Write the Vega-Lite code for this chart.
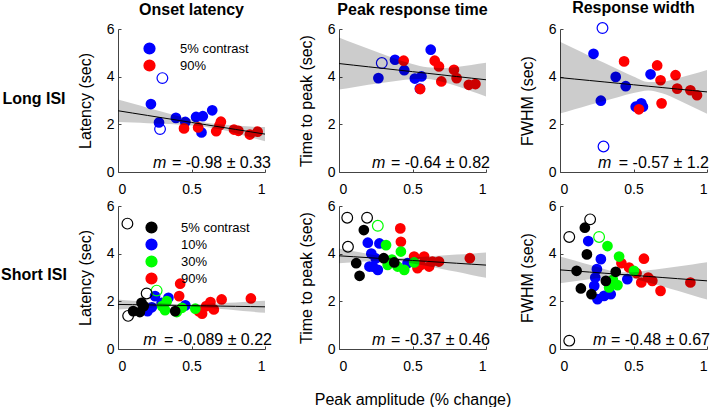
{
"$schema":"https://vega.github.io/schema/vega-lite/v6.json",
"background":"white",
"padding":{"left":0,"top":0,"right":3,"bottom":0},
"datasets":{
"d1":[
{"c":"5% contrast","a":0.224,"v":2.85,"o":false},{"c":"5% contrast","a":0.279,"v":2.08,"o":false},{"c":"5% contrast","a":0.394,"v":2.27,"o":false},{"c":"5% contrast","a":0.458,"v":2.10,"o":false},{"c":"5% contrast","a":0.531,"v":2.31,"o":false},{"c":"5% contrast","a":0.577,"v":2.34,"o":false},{"c":"5% contrast","a":0.641,"v":2.59,"o":false},{"c":"5% contrast","a":0.568,"v":1.66,"o":false},{"c":"5% contrast","a":0.302,"v":3.94,"o":true},{"c":"5% contrast","a":0.286,"v":1.80,"o":true},
{"c":"90%","a":0.449,"v":1.83,"o":false},{"c":"90%","a":0.545,"v":1.87,"o":false},{"c":"90%","a":0.668,"v":1.71,"o":false},{"c":"90%","a":0.700,"v":2.11,"o":false},{"c":"90%","a":0.690,"v":1.95,"o":false},{"c":"90%","a":0.789,"v":1.78,"o":false},{"c":"90%","a":0.819,"v":1.73,"o":false},{"c":"90%","a":0.897,"v":1.57,"o":false},{"c":"90%","a":0.950,"v":1.69,"o":false}],
"d2":[
{"c":"5% contrast","a":0.268,"v":3.94,"o":false},{"c":"5% contrast","a":0.381,"v":4.71,"o":false},{"c":"5% contrast","a":0.444,"v":4.27,"o":false},{"c":"5% contrast","a":0.516,"v":3.92,"o":false},{"c":"5% contrast","a":0.561,"v":4.01,"o":false},{"c":"5% contrast","a":0.624,"v":5.13,"o":false},{"c":"5% contrast","a":0.55,"v":3.50,"o":false},{"c":"5% contrast","a":0.291,"v":4.57,"o":true},
{"c":"90%","a":0.44,"v":4.67,"o":false},{"c":"90%","a":0.552,"v":3.48,"o":false},{"c":"90%","a":0.651,"v":4.67,"o":false},{"c":"90%","a":0.68,"v":4.43,"o":false},{"c":"90%","a":0.696,"v":3.80,"o":false},{"c":"90%","a":0.782,"v":4.29,"o":false},{"c":"90%","a":0.80,"v":3.94,"o":false},{"c":"90%","a":0.883,"v":3.66,"o":false},{"c":"90%","a":0.928,"v":3.69,"o":false}],
"d3":[
{"c":"5% contrast","a":0.228,"v":4.96,"o":false},{"c":"5% contrast","a":0.278,"v":2.99,"o":false},{"c":"5% contrast","a":0.379,"v":3.99,"o":false},{"c":"5% contrast","a":0.447,"v":3.60,"o":false},{"c":"5% contrast","a":0.515,"v":2.74,"o":false},{"c":"5% contrast","a":0.553,"v":2.88,"o":false},{"c":"5% contrast","a":0.564,"v":2.74,"o":false},{"c":"5% contrast","a":0.616,"v":4.10,"o":false},{"c":"5% contrast","a":0.289,"v":6.04,"o":true},{"c":"5% contrast","a":0.296,"v":1.07,"o":true},
{"c":"90%","a":0.436,"v":4.64,"o":false},{"c":"90%","a":0.537,"v":2.63,"o":false},{"c":"90%","a":0.661,"v":4.47,"o":false},{"c":"90%","a":0.684,"v":3.85,"o":false},{"c":"90%","a":0.691,"v":2.88,"o":false},{"c":"90%","a":0.786,"v":4.06,"o":false},{"c":"90%","a":0.797,"v":3.50,"o":false},{"c":"90%","a":0.887,"v":3.43,"o":false},{"c":"90%","a":0.932,"v":3.22,"o":false}],
"d4":[
{"c":"90%","a":0.423,"v":2.74,"o":false},{"c":"90%","a":0.416,"v":2.22,"o":false},{"c":"90%","a":0.549,"v":1.59,"o":false},{"c":"90%","a":0.572,"v":1.48,"o":false},{"c":"90%","a":0.629,"v":1.97,"o":false},{"c":"90%","a":0.652,"v":1.66,"o":false},{"c":"90%","a":0.705,"v":2.08,"o":false},{"c":"90%","a":0.904,"v":2.12,"o":false},{"c":"90%","a":0.60,"v":1.80,"o":false},
{"c":"10%","a":0.201,"v":1.59,"o":false},{"c":"10%","a":0.252,"v":2.22,"o":false},{"c":"10%","a":0.297,"v":1.94,"o":false},{"c":"10%","a":0.343,"v":2.15,"o":false},{"c":"10%","a":0.458,"v":1.83,"o":false},{"c":"10%","a":0.23,"v":1.75,"o":false},
{"c":"30%","a":0.332,"v":2.01,"o":false},{"c":"30%","a":0.32,"v":1.63,"o":false},{"c":"30%","a":0.40,"v":1.55,"o":false},{"c":"30%","a":0.435,"v":1.73,"o":false},{"c":"30%","a":0.526,"v":1.69,"o":false},{"c":"30%","a":0.30,"v":1.80,"o":false},{"c":"30%","a":0.263,"v":2.45,"o":true},
{"c":"5% contrast","a":0.103,"v":1.59,"o":false},{"c":"5% contrast","a":0.149,"v":1.55,"o":false},{"c":"5% contrast","a":0.16,"v":1.94,"o":false},{"c":"5% contrast","a":0.175,"v":1.80,"o":false},{"c":"5% contrast","a":0.389,"v":1.59,"o":false},{"c":"5% contrast","a":0.064,"v":5.26,"o":true},{"c":"5% contrast","a":0.069,"v":1.39,"o":true},{"c":"5% contrast","a":0.195,"v":2.33,"o":true}],
"d5":[
{"c":"90%","a":0.417,"v":5.06,"o":false},{"c":"90%","a":0.421,"v":4.50,"o":false},{"c":"90%","a":0.511,"v":3.88,"o":false},{"c":"90%","a":0.556,"v":3.53,"o":false},{"c":"90%","a":0.579,"v":3.88,"o":false},{"c":"90%","a":0.613,"v":3.46,"o":false},{"c":"90%","a":0.635,"v":3.67,"o":false},{"c":"90%","a":0.68,"v":3.67,"o":false},{"c":"90%","a":0.89,"v":3.81,"o":false},{"c":"90%","a":0.534,"v":3.39,"o":false},
{"c":"10%","a":0.196,"v":4.46,"o":false},{"c":"10%","a":0.275,"v":4.43,"o":false},{"c":"10%","a":0.230,"v":3.46,"o":false},{"c":"10%","a":0.264,"v":3.32,"o":false},{"c":"10%","a":0.207,"v":3.46,"o":false},{"c":"10%","a":0.466,"v":3.60,"o":false},{"c":"10%","a":0.22,"v":4.0,"o":false},{"c":"10%","a":0.25,"v":3.8,"o":false},
{"c":"30%","a":0.32,"v":4.36,"o":false},{"c":"30%","a":0.331,"v":3.53,"o":false},{"c":"30%","a":0.421,"v":4.09,"o":false},{"c":"30%","a":0.399,"v":3.46,"o":false},{"c":"30%","a":0.444,"v":3.32,"o":false},{"c":"30%","a":0.511,"v":3.63,"o":false},{"c":"30%","a":0.36,"v":3.75,"o":false},{"c":"30%","a":0.264,"v":5.17,"o":true},
{"c":"5% contrast","a":0.169,"v":4.99,"o":false},{"c":"5% contrast","a":0.117,"v":3.60,"o":false},{"c":"5% contrast","a":0.140,"v":3.07,"o":false},{"c":"5% contrast","a":0.304,"v":3.81,"o":false},{"c":"5% contrast","a":0.376,"v":3.63,"o":false},{"c":"5% contrast","a":0.056,"v":5.51,"o":true},{"c":"5% contrast","a":0.191,"v":5.51,"o":true},{"c":"5% contrast","a":0.061,"v":4.29,"o":true}],
"d6":[
{"c":"90%","a":0.418,"v":3.60,"o":false},{"c":"90%","a":0.571,"v":3.79,"o":false},{"c":"90%","a":0.47,"v":3.42,"o":false},{"c":"90%","a":0.521,"v":3.18,"o":false},{"c":"90%","a":0.553,"v":2.79,"o":false},{"c":"90%","a":0.628,"v":2.86,"o":false},{"c":"90%","a":0.684,"v":2.44,"o":false},{"c":"90%","a":0.887,"v":2.79,"o":false},{"c":"90%","a":0.60,"v":3.0,"o":false},
{"c":"10%","a":0.192,"v":4.53,"o":false},{"c":"10%","a":0.278,"v":3.77,"o":false},{"c":"10%","a":0.251,"v":3.35,"o":false},{"c":"10%","a":0.233,"v":2.65,"o":false},{"c":"10%","a":0.255,"v":2.09,"o":false},{"c":"10%","a":0.30,"v":2.23,"o":false},{"c":"10%","a":0.345,"v":2.30,"o":false},{"c":"10%","a":0.458,"v":2.93,"o":false},{"c":"10%","a":0.24,"v":3.0,"o":false},
{"c":"30%","a":0.323,"v":4.32,"o":false},{"c":"30%","a":0.402,"v":3.88,"o":false},{"c":"30%","a":0.334,"v":2.58,"o":false},{"c":"30%","a":0.391,"v":2.68,"o":false},{"c":"30%","a":0.503,"v":3.28,"o":false},{"c":"30%","a":0.36,"v":2.9,"o":false},{"c":"30%","a":0.266,"v":4.70,"o":true},
{"c":"5% contrast","a":0.169,"v":5.09,"o":false},{"c":"5% contrast","a":0.183,"v":3.97,"o":false},{"c":"5% contrast","a":0.113,"v":3.28,"o":false},{"c":"5% contrast","a":0.142,"v":2.54,"o":false},{"c":"5% contrast","a":0.214,"v":2.30,"o":false},{"c":"5% contrast","a":0.312,"v":2.86,"o":false},{"c":"5% contrast","a":0.379,"v":3.24,"o":false},{"c":"5% contrast","a":0.205,"v":5.44,"o":true},{"c":"5% contrast","a":0.063,"v":4.70,"o":true},{"c":"5% contrast","a":0.063,"v":0.35,"o":true}],
"b1":[{"a":0,"lo":2.10,"hi":3.04,"fit":2.57},{"a":0.1,"lo":2.08,"hi":2.87,"fit":2.472},{"a":0.2,"lo":2.05,"hi":2.70,"fit":2.374},{"a":0.3,"lo":2.02,"hi":2.53,"fit":2.276},{"a":0.4,"lo":1.99,"hi":2.36,"fit":2.178},{"a":0.5,"lo":1.95,"hi":2.21,"fit":2.08},{"a":0.6,"lo":1.89,"hi":2.07,"fit":1.982},{"a":0.7,"lo":1.78,"hi":1.99,"fit":1.884},{"a":0.8,"lo":1.63,"hi":1.95,"fit":1.786},{"a":0.9,"lo":1.46,"hi":1.91,"fit":1.688},{"a":1,"lo":1.29,"hi":1.89,"fit":1.59}],
"b2":[{"a":0,"lo":3.46,"hi":5.64,"fit":4.55},{"a":0.1,"lo":3.56,"hi":5.40,"fit":4.482},{"a":0.2,"lo":3.66,"hi":5.17,"fit":4.414},{"a":0.3,"lo":3.75,"hi":4.94,"fit":4.346},{"a":0.4,"lo":3.83,"hi":4.72,"fit":4.278},{"a":0.5,"lo":3.89,"hi":4.53,"fit":4.21},{"a":0.6,"lo":3.90,"hi":4.39,"fit":4.142},{"a":0.7,"lo":3.79,"hi":4.36,"fit":4.074},{"a":0.8,"lo":3.61,"hi":4.41,"fit":4.006},{"a":0.9,"lo":3.39,"hi":4.49,"fit":3.938},{"a":1,"lo":3.17,"hi":4.58,"fit":3.87}],
"b3":[{"a":0,"lo":2.45,"hi":5.47,"fit":3.96},{"a":0.1,"lo":2.63,"hi":5.17,"fit":3.90},{"a":0.2,"lo":2.81,"hi":4.87,"fit":3.84},{"a":0.3,"lo":2.98,"hi":4.58,"fit":3.78},{"a":0.4,"lo":3.15,"hi":4.29,"fit":3.72},{"a":0.5,"lo":3.31,"hi":4.01,"fit":3.66},{"a":0.6,"lo":3.42,"hi":3.78,"fit":3.60},{"a":0.7,"lo":3.29,"hi":3.79,"fit":3.54},{"a":0.8,"lo":3.03,"hi":3.93,"fit":3.48},{"a":0.9,"lo":2.74,"hi":4.10,"fit":3.42},{"a":1,"lo":2.44,"hi":4.28,"fit":3.36}],
"b4":[{"a":0,"lo":1.66,"hi":2.08,"fit":1.87},{"a":0.1,"lo":1.70,"hi":2.02,"fit":1.86},{"a":0.2,"lo":1.73,"hi":1.97,"fit":1.85},{"a":0.3,"lo":1.76,"hi":1.92,"fit":1.84},{"a":0.4,"lo":1.78,"hi":1.88,"fit":1.83},{"a":0.5,"lo":1.77,"hi":1.87,"fit":1.82},{"a":0.6,"lo":1.73,"hi":1.89,"fit":1.81},{"a":0.7,"lo":1.68,"hi":1.92,"fit":1.80},{"a":0.8,"lo":1.63,"hi":1.95,"fit":1.79},{"a":0.9,"lo":1.57,"hi":1.99,"fit":1.78},{"a":1,"lo":1.52,"hi":2.02,"fit":1.77}],
"b5":[{"a":0,"lo":3.60,"hi":4.22,"fit":3.91},{"a":0.1,"lo":3.64,"hi":4.10,"fit":3.871},{"a":0.2,"lo":3.68,"hi":3.99,"fit":3.832},{"a":0.3,"lo":3.71,"hi":3.88,"fit":3.793},{"a":0.4,"lo":3.69,"hi":3.82,"fit":3.754},{"a":0.5,"lo":3.59,"hi":3.84,"fit":3.715},{"a":0.6,"lo":3.48,"hi":3.88,"fit":3.676},{"a":0.7,"lo":3.36,"hi":3.92,"fit":3.637},{"a":0.8,"lo":3.24,"hi":3.96,"fit":3.598},{"a":0.9,"lo":3.11,"hi":4.00,"fit":3.559},{"a":1,"lo":2.99,"hi":4.05,"fit":3.52}],
"b6":[{"a":0,"lo":2.76,"hi":3.88,"fit":3.32},{"a":0.1,"lo":2.84,"hi":3.71,"fit":3.274},{"a":0.2,"lo":2.93,"hi":3.53,"fit":3.228},{"a":0.3,"lo":3.00,"hi":3.36,"fit":3.182},{"a":0.4,"lo":3.05,"hi":3.22,"fit":3.136},{"a":0.5,"lo":2.96,"hi":3.22,"fit":3.09},{"a":0.6,"lo":2.79,"hi":3.30,"fit":3.044},{"a":0.7,"lo":2.62,"hi":3.38,"fit":2.998},{"a":0.8,"lo":2.44,"hi":3.46,"fit":2.952},{"a":0.9,"lo":2.26,"hi":3.55,"fit":2.906},{"a":1,"lo":2.08,"hi":3.64,"fit":2.86}]
},
"spacing":3,
"resolve":{"scale":{"color":"independent","stroke":"independent"},"legend":{"color":"independent"}},
"vconcat":[
{"spacing":74,"bounds":"flush",
 "resolve":{"scale":{"color":"independent","stroke":"independent"},"legend":{"color":"independent"}},
 "hconcat":[
 {"width":44,"height":143,"data":{"values":[{"t":"Long ISI"}]},
  "mark":{"type":"text","fontSize":16,"fontWeight":"bold","color":"#000000","dx":12,"dy":-2},
  "encoding":{"text":{"field":"t","type":"nominal"}}},
 {"width":147,"height":143,"title":"Onset latency",
  "encoding":{"x":{"field":"a","type":"quantitative","scale":{"domain":[0,1]},"axis":{"values":[0,0.5,1],"format":"~g","title":null}}},
  "layer":[
   {"data":{"name":"d1"},"transform":[{"filter":"!datum.o"}],"mark":{"type":"circle","size":115,"opacity":1},
    "encoding":{"y":{"field":"v","type":"quantitative","scale":{"domain":[0,6]},"axis":{"values":[0,2,4,6],"title":"Latency (sec)"}},
     "color":{"field":"c","type":"nominal","scale":{"domain":["5% contrast","90%"],"range":["#0000ff","#ff0000"]},
      "legend":{"orient":"none","legendX":25,"legendY":13,"title":null,"labelFontSize":13,"symbolSize":115,"symbolType":"circle","labelOffset":24,"rowPadding":0,"padding":0}}}},
   {"data":{"name":"d1"},"transform":[{"filter":"datum.o"}],"mark":{"type":"point","shape":"circle","size":115,"filled":false,"strokeWidth":1.2,"opacity":1},
    "encoding":{"y":{"field":"v","type":"quantitative","scale":{"domain":[0,6]},"axis":{"values":[0,2,4,6],"title":"Latency (sec)"}},
     "stroke":{"field":"c","type":"nominal","scale":{"domain":["5% contrast","90%"],"range":["#0000ff","#ff0000"]},"legend":null}}},
   {"data":{"name":"b1"},"mark":{"type":"area","color":"#000000","opacity":0.2,"interpolate":"monotone"},
    "encoding":{"y":{"field":"lo","type":"quantitative","scale":{"domain":[0,6]},"axis":{"values":[0,2,4,6],"title":"Latency (sec)"}},"y2":{"field":"hi"}}},
   {"data":{"name":"b1"},"mark":{"type":"line","color":"#000000","strokeWidth":1},
    "encoding":{"y":{"field":"fit","type":"quantitative","scale":{"domain":[0,6]},"axis":{"values":[0,2,4,6],"title":"Latency (sec)"}}}},
   {"data":{"values":[{"t":"= -0.98 ± 0.33"}]},"mark":{"type":"text","align":"right","baseline":"alphabetic","fontSize":16,"color":"#000000","dx":6,"dy":-4},
    "encoding":{"x":{"value":"width"},"y":{"value":"height"},"text":{"field":"t","type":"nominal"}}},
   {"data":{"values":[{"t":"m"}]},"mark":{"type":"text","align":"right","baseline":"alphabetic","fontSize":16,"fontStyle":"italic","color":"#000000","dx":-98.6,"dy":-4},
    "encoding":{"x":{"value":"width"},"y":{"value":"height"},"text":{"field":"t","type":"nominal"}}}
  ]},
 {"width":147,"height":143,"title":"Peak response time",
  "encoding":{"x":{"field":"a","type":"quantitative","scale":{"domain":[0,1]},"axis":{"values":[0,0.5,1],"format":"~g","title":null}}},
  "layer":[
   {"data":{"name":"d2"},"transform":[{"filter":"!datum.o"}],"mark":{"type":"circle","size":115,"opacity":1},
    "encoding":{"y":{"field":"v","type":"quantitative","scale":{"domain":[0,6]},"axis":{"values":[0,2,4,6],"title":"Time to peak (sec)"}},
     "color":{"field":"c","type":"nominal","scale":{"domain":["5% contrast","90%"],"range":["#0000ff","#ff0000"]},"legend":null}}},
   {"data":{"name":"d2"},"transform":[{"filter":"datum.o"}],"mark":{"type":"point","shape":"circle","size":115,"filled":false,"strokeWidth":1.2,"opacity":1},
    "encoding":{"y":{"field":"v","type":"quantitative","scale":{"domain":[0,6]},"axis":{"values":[0,2,4,6],"title":"Time to peak (sec)"}},
     "stroke":{"field":"c","type":"nominal","scale":{"domain":["5% contrast","90%"],"range":["#0000ff","#ff0000"]},"legend":null}}},
   {"data":{"name":"b2"},"mark":{"type":"area","color":"#000000","opacity":0.2,"interpolate":"monotone"},
    "encoding":{"y":{"field":"lo","type":"quantitative","scale":{"domain":[0,6]},"axis":{"values":[0,2,4,6],"title":"Time to peak (sec)"}},"y2":{"field":"hi"}}},
   {"data":{"name":"b2"},"mark":{"type":"line","color":"#000000","strokeWidth":1},
    "encoding":{"y":{"field":"fit","type":"quantitative","scale":{"domain":[0,6]},"axis":{"values":[0,2,4,6],"title":"Time to peak (sec)"}}}},
   {"data":{"values":[{"t":"= -0.64 ± 0.82"}]},"mark":{"type":"text","align":"right","baseline":"alphabetic","fontSize":16,"color":"#000000","dx":4,"dy":-4},
    "encoding":{"x":{"value":"width"},"y":{"value":"height"},"text":{"field":"t","type":"nominal"}}},
   {"data":{"values":[{"t":"m"}]},"mark":{"type":"text","align":"right","baseline":"alphabetic","fontSize":16,"fontStyle":"italic","color":"#000000","dx":-100.6,"dy":-4},
    "encoding":{"x":{"value":"width"},"y":{"value":"height"},"text":{"field":"t","type":"nominal"}}}
  ]},
 {"width":147,"height":143,"title":"Response width",
  "encoding":{"x":{"field":"a","type":"quantitative","scale":{"domain":[0,1]},"axis":{"values":[0,0.5,1],"format":"~g","title":null}}},
  "layer":[
   {"data":{"name":"d3"},"transform":[{"filter":"!datum.o"}],"mark":{"type":"circle","size":115,"opacity":1},
    "encoding":{"y":{"field":"v","type":"quantitative","scale":{"domain":[0,6]},"axis":{"values":[0,2,4,6],"title":"FWHM (sec)"}},
     "color":{"field":"c","type":"nominal","scale":{"domain":["5% contrast","90%"],"range":["#0000ff","#ff0000"]},"legend":null}}},
   {"data":{"name":"d3"},"transform":[{"filter":"datum.o"}],"mark":{"type":"point","shape":"circle","size":115,"filled":false,"strokeWidth":1.2,"opacity":1,"clip":false},
    "encoding":{"y":{"field":"v","type":"quantitative","scale":{"domain":[0,6]},"axis":{"values":[0,2,4,6],"title":"FWHM (sec)"}},
     "stroke":{"field":"c","type":"nominal","scale":{"domain":["5% contrast","90%"],"range":["#0000ff","#ff0000"]},"legend":null}}},
   {"data":{"name":"b3"},"mark":{"type":"area","color":"#000000","opacity":0.2,"interpolate":"monotone"},
    "encoding":{"y":{"field":"lo","type":"quantitative","scale":{"domain":[0,6]},"axis":{"values":[0,2,4,6],"title":"FWHM (sec)"}},"y2":{"field":"hi"}}},
   {"data":{"name":"b3"},"mark":{"type":"line","color":"#000000","strokeWidth":1},
    "encoding":{"y":{"field":"fit","type":"quantitative","scale":{"domain":[0,6]},"axis":{"values":[0,2,4,6],"title":"FWHM (sec)"}}}},
   {"data":{"values":[{"t":"= -0.57 ± 1.2"}]},"mark":{"type":"text","align":"right","baseline":"alphabetic","fontSize":16,"color":"#000000","dx":2,"dy":-4},
    "encoding":{"x":{"value":"width"},"y":{"value":"height"},"text":{"field":"t","type":"nominal"}}},
   {"data":{"values":[{"t":"m"}]},"mark":{"type":"text","align":"right","baseline":"alphabetic","fontSize":16,"fontStyle":"italic","color":"#000000","dx":-95.6,"dy":-4},
    "encoding":{"x":{"value":"width"},"y":{"value":"height"},"text":{"field":"t","type":"nominal"}}}
  ]}
 ]},
{"spacing":74,"bounds":"flush",
 "resolve":{"scale":{"color":"independent","stroke":"independent"},"legend":{"color":"independent"}},
 "hconcat":[
 {"width":44,"height":143,"data":{"values":[{"t":"Short ISI"}]},
  "mark":{"type":"text","fontSize":16,"fontWeight":"bold","color":"#000000","dx":12,"dy":-3},
  "encoding":{"text":{"field":"t","type":"nominal"}}},
 {"width":147,"height":143,
  "encoding":{"x":{"field":"a","type":"quantitative","scale":{"domain":[0,1]},"axis":{"values":[0,0.5,1],"format":"~g","title":null}}},
  "layer":[
   {"data":{"name":"d4"},"transform":[{"filter":"!datum.o"}],"mark":{"type":"circle","size":115,"opacity":1},
    "encoding":{"y":{"field":"v","type":"quantitative","scale":{"domain":[0,6]},"axis":{"values":[0,2,4,6],"title":"Latency (sec)"}},
     "color":{"field":"c","type":"nominal","scale":{"domain":["5% contrast","10%","30%","90%"],"range":["#000000","#0000ff","#00ff00","#ff0000"]},
      "legend":{"orient":"none","legendX":27,"legendY":15,"title":null,"labelFontSize":13,"symbolSize":115,"symbolType":"circle","labelOffset":23,"rowPadding":0,"padding":0}}}},
   {"data":{"name":"d4"},"transform":[{"filter":"datum.o"}],"mark":{"type":"point","shape":"circle","size":115,"filled":false,"strokeWidth":1.2,"opacity":1},
    "encoding":{"y":{"field":"v","type":"quantitative","scale":{"domain":[0,6]},"axis":{"values":[0,2,4,6],"title":"Latency (sec)"}},
     "stroke":{"field":"c","type":"nominal","scale":{"domain":["5% contrast","10%","30%","90%"],"range":["#000000","#0000ff","#00ff00","#ff0000"]},"legend":null}}},
   {"data":{"name":"b4"},"mark":{"type":"area","color":"#000000","opacity":0.2,"interpolate":"monotone"},
    "encoding":{"y":{"field":"lo","type":"quantitative","scale":{"domain":[0,6]},"axis":{"values":[0,2,4,6],"title":"Latency (sec)"}},"y2":{"field":"hi"}}},
   {"data":{"name":"b4"},"mark":{"type":"line","color":"#000000","strokeWidth":1},
    "encoding":{"y":{"field":"fit","type":"quantitative","scale":{"domain":[0,6]},"axis":{"values":[0,2,4,6],"title":"Latency (sec)"}}}},
   {"data":{"values":[{"t":"= -0.089 ± 0.22"}]},"mark":{"type":"text","align":"right","baseline":"alphabetic","fontSize":16,"color":"#000000","dx":7,"dy":-4},
    "encoding":{"x":{"value":"width"},"y":{"value":"height"},"text":{"field":"t","type":"nominal"}}},
   {"data":{"values":[{"t":"m"}]},"mark":{"type":"text","align":"right","baseline":"alphabetic","fontSize":16,"fontStyle":"italic","color":"#000000","dx":-108.4,"dy":-4},
    "encoding":{"x":{"value":"width"},"y":{"value":"height"},"text":{"field":"t","type":"nominal"}}}
  ]},
 {"width":147,"height":143,
  "encoding":{"x":{"field":"a","type":"quantitative","scale":{"domain":[0,1]},"axis":{"values":[0,0.5,1],"format":"~g","title":"Peak amplitude (% change)","titlePadding":18}}},
  "layer":[
   {"data":{"name":"d5"},"transform":[{"filter":"!datum.o"}],"mark":{"type":"circle","size":115,"opacity":1},
    "encoding":{"y":{"field":"v","type":"quantitative","scale":{"domain":[0,6]},"axis":{"values":[0,2,4,6],"title":"Time to peak (sec)"}},
     "color":{"field":"c","type":"nominal","scale":{"domain":["5% contrast","10%","30%","90%"],"range":["#000000","#0000ff","#00ff00","#ff0000"]},"legend":null}}},
   {"data":{"name":"d5"},"transform":[{"filter":"datum.o"}],"mark":{"type":"point","shape":"circle","size":115,"filled":false,"strokeWidth":1.2,"opacity":1},
    "encoding":{"y":{"field":"v","type":"quantitative","scale":{"domain":[0,6]},"axis":{"values":[0,2,4,6],"title":"Time to peak (sec)"}},
     "stroke":{"field":"c","type":"nominal","scale":{"domain":["5% contrast","10%","30%","90%"],"range":["#000000","#0000ff","#00ff00","#ff0000"]},"legend":null}}},
   {"data":{"name":"b5"},"mark":{"type":"area","color":"#000000","opacity":0.2,"interpolate":"monotone"},
    "encoding":{"y":{"field":"lo","type":"quantitative","scale":{"domain":[0,6]},"axis":{"values":[0,2,4,6],"title":"Time to peak (sec)"}},"y2":{"field":"hi"}}},
   {"data":{"name":"b5"},"mark":{"type":"line","color":"#000000","strokeWidth":1},
    "encoding":{"y":{"field":"fit","type":"quantitative","scale":{"domain":[0,6]},"axis":{"values":[0,2,4,6],"title":"Time to peak (sec)"}}}},
   {"data":{"values":[{"t":"= -0.37 ± 0.46"}]},"mark":{"type":"text","align":"right","baseline":"alphabetic","fontSize":16,"color":"#000000","dx":4,"dy":-4},
    "encoding":{"x":{"value":"width"},"y":{"value":"height"},"text":{"field":"t","type":"nominal"}}},
   {"data":{"values":[{"t":"m"}]},"mark":{"type":"text","align":"right","baseline":"alphabetic","fontSize":16,"fontStyle":"italic","color":"#000000","dx":-100.6,"dy":-4},
    "encoding":{"x":{"value":"width"},"y":{"value":"height"},"text":{"field":"t","type":"nominal"}}}
  ]},
 {"width":147,"height":143,
  "encoding":{"x":{"field":"a","type":"quantitative","scale":{"domain":[0,1]},"axis":{"values":[0,0.5,1],"format":"~g","title":null}}},
  "layer":[
   {"data":{"name":"d6"},"transform":[{"filter":"!datum.o"}],"mark":{"type":"circle","size":115,"opacity":1},
    "encoding":{"y":{"field":"v","type":"quantitative","scale":{"domain":[0,6]},"axis":{"values":[0,2,4,6],"title":"FWHM (sec)"}},
     "color":{"field":"c","type":"nominal","scale":{"domain":["5% contrast","10%","30%","90%"],"range":["#000000","#0000ff","#00ff00","#ff0000"]},"legend":null}}},
   {"data":{"name":"d6"},"transform":[{"filter":"datum.o"}],"mark":{"type":"point","shape":"circle","size":115,"filled":false,"strokeWidth":1.2,"opacity":1},
    "encoding":{"y":{"field":"v","type":"quantitative","scale":{"domain":[0,6]},"axis":{"values":[0,2,4,6],"title":"FWHM (sec)"}},
     "stroke":{"field":"c","type":"nominal","scale":{"domain":["5% contrast","10%","30%","90%"],"range":["#000000","#0000ff","#00ff00","#ff0000"]},"legend":null}}},
   {"data":{"name":"b6"},"mark":{"type":"area","color":"#000000","opacity":0.2,"interpolate":"monotone"},
    "encoding":{"y":{"field":"lo","type":"quantitative","scale":{"domain":[0,6]},"axis":{"values":[0,2,4,6],"title":"FWHM (sec)"}},"y2":{"field":"hi"}}},
   {"data":{"name":"b6"},"mark":{"type":"line","color":"#000000","strokeWidth":1},
    "encoding":{"y":{"field":"fit","type":"quantitative","scale":{"domain":[0,6]},"axis":{"values":[0,2,4,6],"title":"FWHM (sec)"}}}},
   {"data":{"values":[{"t":"= -0.48 ± 0.67"}]},"mark":{"type":"text","align":"right","baseline":"alphabetic","fontSize":16,"color":"#000000","dx":3,"dy":-4},
    "encoding":{"x":{"value":"width"},"y":{"value":"height"},"text":{"field":"t","type":"nominal"}}},
   {"data":{"values":[{"t":"m"}]},"mark":{"type":"text","align":"right","baseline":"alphabetic","fontSize":16,"fontStyle":"italic","color":"#000000","dx":-100.6,"dy":-4},
    "encoding":{"x":{"value":"width"},"y":{"value":"height"},"text":{"field":"t","type":"nominal"}}}
  ]}
 ]}
],
"config":{
 "font":"Liberation Sans",
 "view":{"stroke":null},
 "axis":{"grid":false,"domainColor":"#444444","domainWidth":1,"tickColor":"#444444","tickSize":-3,"labelColor":"#000000","labelFontSize":14,"titleFontSize":16,"titleFontWeight":"normal","titleColor":"#000000","labelFont":"Liberation Sans","titleFont":"Liberation Sans"},
 "axisX":{"labelPadding":13,"titlePadding":8},
 "axisY":{"labelPadding":7,"titlePadding":13},
 "title":{"fontSize":16,"fontWeight":"bold","font":"Liberation Sans","color":"#000000","offset":4},
 "legend":{"labelFont":"Liberation Sans","labelColor":"#000000"}
}
}
